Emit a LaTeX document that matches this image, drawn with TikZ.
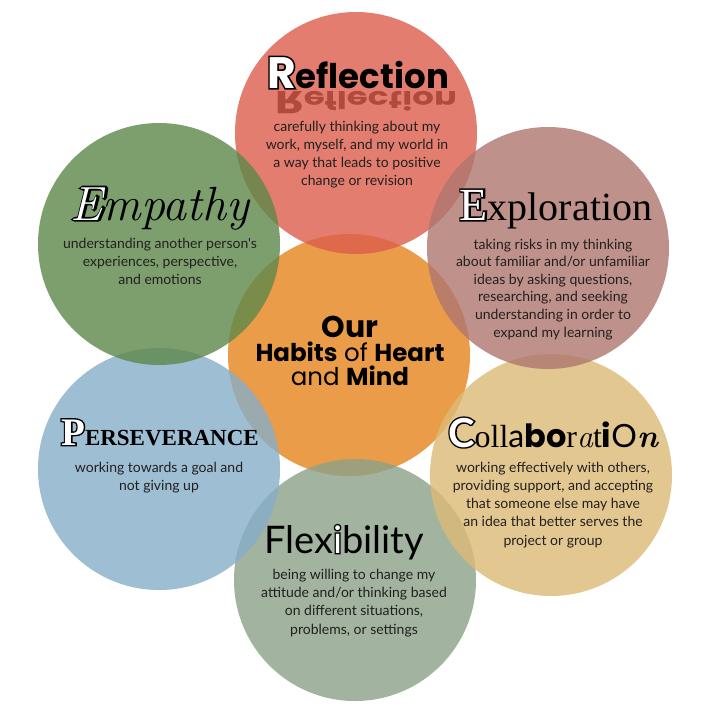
\documentclass[tikz,border=0pt]{standalone}
\usepackage{fontspec}
\usepackage{graphicx}
\usepackage{tikz}
\newfontfamily\lato{Lato}
\newfontfamily\poppins{Poppins}
\newfontfamily\libserif{Liberation Serif}
% stroked faces for the hollow capitals
\newfontfamily\latofat{Lato}[FakeBold=7]
\newfontfamily\poppinsfat{Poppins}[FakeBold=7]
\newfontfamily\seriffat{Liberation Serif}[FakeBold=7]
\newfontface\lmitfat{lmroman10-italic.otf}[FakeBold=7]
\definecolor{heartorange}{RGB}{234,156,72}
\definecolor{reflred}{RGB}{219,93,76}
\definecolor{empgreen}{RGB}{93,136,74}
\definecolor{explrose}{RGB}{174,118,111}
\definecolor{persblue}{RGB}{134,174,201}
\definecolor{collabtan}{RGB}{221,186,118}
\definecolor{flexsage}{RGB}{139,161,136}
\definecolor{inkgray}{RGB}{35,32,32}
\newcommand\hollow[2]{\rlap{\color{black}#1#2}\textcolor{white}{#2}}
% multi-line nodes sit on the baseline of their last line
\tikzset{
  habit/.style={circle, inner sep=0pt, minimum size=242pt, fill opacity=0.8},
  heading/.style={anchor=base, inner sep=0pt, text=black},
  blurb/.style={align=center, anchor=base, inner sep=0pt, text=inkgray,
    font=\lato\fontsize{14}{18}\selectfont},
}

\begin{document}
\begin{tikzpicture}[x=1pt, y=-1pt]
\useasboundingbox[fill=white] (0,0) rectangle (727,716);
% the seven habits, drawn from the bottom layer up
\node[habit, fill=heartorange, fill opacity=1] (heart) at (349,355) {};
\node[habit, fill=flexsage] (flex) at (355,580) {};
\node[habit, fill=collabtan] (collab) at (551,475) {};
\node[habit, fill=persblue] (pers) at (159,469) {};
\node[habit, fill=reflred] (refl) at (356,133) {};
\node[habit, fill=explrose] (expl) at (548,248) {};
\node[habit, fill=empgreen] (emp) at (159,244) {};

% centre
\node[align=center, anchor=base, inner sep=0pt, font=\poppins\fontsize{24.5}{24}\selectfont] (motto) at (350,385)
  {{\bfseries\fontsize{30}{24}\selectfont Our}\\{\bfseries Habits} of {\bfseries Heart}\\and {\bfseries Mind}};

% Reflection
\node[heading, text=reflred!80!black, font=\poppins\bfseries\fontsize{34}{34}\selectfont] (reflshadow) at (366,91)
  {\scalebox{1}[-0.72]{{\fontsize{44}{44}\selectfont R}eflection}};
\node[heading, font=\poppins\bfseries\fontsize{34}{34}\selectfont] (refltitle) at (358,88)
  {{\fontsize{44}{44}\selectfont\hollow{\poppinsfat}{R}}eflection};
\node[blurb] (reflnote) at (357,185) {carefully thinking about my\\work, myself, and my world in\\a way that leads to positive\\change or revision};

% Empathy
\node[heading, font=\itshape\fontsize{48}{48}\selectfont] (emptitle) at (160,220) {\hollow{\lmitfat}{E}mpathy};
\node[blurb] (empnote) at (160,284) {understanding another person's\\experiences, perspective,\\and emotions};

% Exploration
\node[heading, font=\libserif\fontsize{40}{40}\selectfont] (expltitle) at (556,220)
  {{\fontsize{46}{46}\selectfont\hollow{\seriffat}{E}}xploration};
\node[blurb, font=\lato\fontsize{14}{17.6}\selectfont] (explnote) at (553,337) {taking risks in my thinking\\about familiar and/or unfamiliar\\ideas by asking questions,\\researching, and seeking\\understanding in order to\\expand my learning};

% Perseverance
\node[heading, font=\libserif\bfseries\fontsize{23}{23}\selectfont] (perstitle) at (160,445)
  {{\fontsize{39}{39}\selectfont\hollow{\seriffat}{P}}ERSEVERANCE};
\node[blurb] (persnote) at (159,490) {working towards a goal and\\not giving up};

% Collaboration
\node[heading, font=\fontsize{32}{32}\selectfont] (collabtitle) at (553,447)
  {{\lato\bfseries\fontsize{40}{40}\selectfont\hollow{\latofat}{C}}{\libserif oll}{\lato a}{\poppins\bfseries bo}{\libserif r}{\itshape a}{\libserif t}{\poppins\bfseries i}{\lato O}{\bfseries\itshape n}};
\node[blurb, font=\lato\fontsize{14}{18.25}\selectfont] (collabnote) at (553,545) {working effectively with others,\\providing support, and accepting\\that someone else may have\\an idea that better serves the\\project or group};

% Flexibility
\node[heading, font=\lato\fontsize{38}{38}\selectfont] (flextitle) at (344,553) {Flex\hollow{\latofat}{i}bility};
\node[blurb, font=\lato\fontsize{14}{18.3}\selectfont] (flexnote) at (354,634) {being willing to change my\\attitude and/or thinking based\\on different situations,\\problems, or settings};
\end{tikzpicture}
\end{document}
